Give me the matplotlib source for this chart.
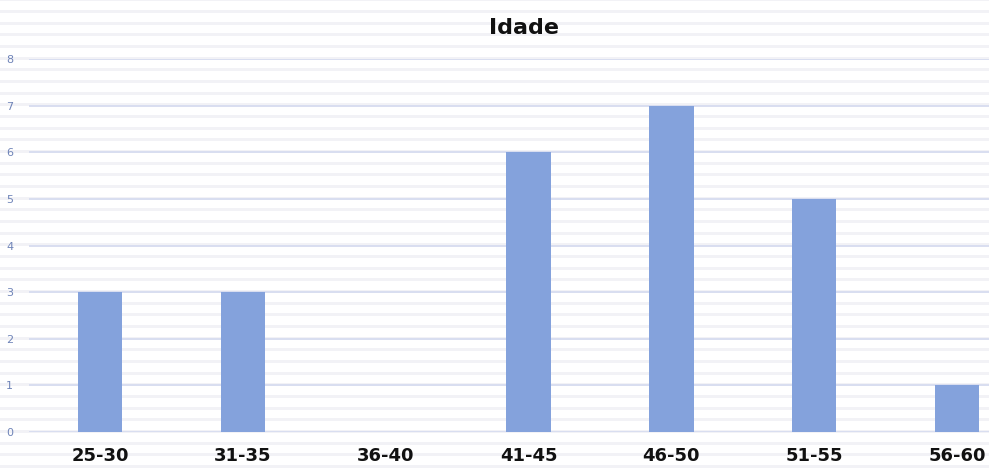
import matplotlib
matplotlib.use("Agg")
import matplotlib.pyplot as plt
import numpy as np

# Age distribution
categories = ["25-30", "31-35", "36-40", "41-45", "46-50", "51-55", "56-60"]
counts = [3, 3, 0, 6, 7, 5, 1]
y_ticks = [0, 1, 2, 3, 4, 5, 6, 7, 8]
title = "Idade"

W, H = 989, 469
fig = plt.figure(figsize=(W / 100, H / 100), dpi=100)
fig.patch.set_facecolor("white")

# striped paper background
bg = fig.add_axes([0, 0, 1, 1], zorder=0)
bg.set_xlim(0, W)
bg.set_ylim(H, 0)
bg.axis("off")
for y0 in np.arange(-1.5, H, 11.66):
    bg.axhspan(y0, y0 + 3.0, color="#f2f2f6", lw=0)

# plot area (category bands run past the right edge of the image)
left_px, right_px = 28.5, 1028.5
bottom_px, top_px = 432, 59
ax = fig.add_axes([left_px / W, (H - bottom_px) / H,
                   (right_px - left_px) / W, (bottom_px - top_px) / H], zorder=1)
ax.patch.set_alpha(0)

x = np.arange(len(categories))
ax.bar(x, counts, width=0.31, color="#84a2dc", zorder=3)

ax.set_xlim(-0.5, len(categories) - 0.5)
ax.set_ylim(0, 8)
ax.set_yticks(y_ticks)
ax.set_yticklabels([str(v) for v in y_ticks])
ax.grid(axis="y", color="#d9def0", lw=1.4, zorder=1)
ax.set_axisbelow(True)
for s in ax.spines.values():
    s.set_visible(False)
ax.tick_params(axis="y", length=0, labelsize=8, labelcolor="#6f84b8", pad=11)
ax.tick_params(axis="x", length=0, pad=11)
ax.set_xticks(x)
ax.set_xticklabels(categories, fontsize=13, fontweight="bold", color="#111111",
                   family="DejaVu Sans")

fig.text((left_px + 500) / W - 0.005, 1 - 28 / H, title, ha="center", va="center",
         fontsize=16, fontweight="bold", color="#111111")

fig.savefig("out.png", dpi=100)
